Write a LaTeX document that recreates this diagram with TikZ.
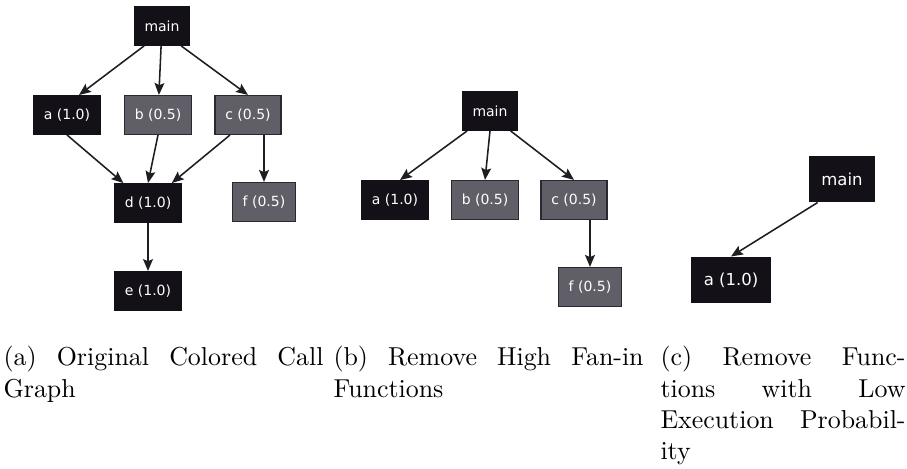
\documentclass[tikz,border=0pt]{standalone}
\usepackage{fontspec}
\usetikzlibrary{arrows.meta}
\newfontfamily\boxfont{DejaVu Sans}
\definecolor{hotbox}{HTML}{131117}
\definecolor{coldbox}{HTML}{605E67}
\definecolor{coldedge}{HTML}{2A2930}
\definecolor{callline}{HTML}{1E1E22}
\tikzset{
fn/.style={
draw=hotbox,fill=hotbox,text=white,
font=\boxfont\fontsize{5.4}{6}\selectfont,
minimum height=15pt,inner xsep=4pt,inner ysep=0pt
},
half/.style={fn,fill=coldbox,draw=coldedge,line width=.5pt},
big/.style={scale=1.18},
call/.style={
draw=callline,line width=.6pt,
-{Stealth[length=4.6pt,width=3.8pt,inset=.8pt]}
},
subcap/.style={
anchor=north west,inner sep=0pt,align=justify,
font=\fontsize{10}{12}\selectfont
},
}

\begin{document}
\begin{tikzpicture}[x=0.386pt,y=-0.386pt]
\useasboundingbox (0,0) rectangle (907,469);
% (a) original call graph
\node[fn] (a-main) at (162,26) {main};
\node[fn] (a-a) at (67,115) {a (1.0)};
\node[half] (a-b) at (158,115) {b (0.5)};
\node[half] (a-c) at (248,115) {c (0.5)};
\node[fn] (a-d) at (148,203) {d (1.0)};
\node[half] (a-f) at (264,202) {f (0.5)};
\node[fn] (a-e) at (148,291) {e (1.0)};
\foreach \u/\v in {main.228/a.59,main/b,main.314/c.north,a.south/d.141,b.south/d.north,c.228/d.40,d/e}
\draw[call] (a-\u) -- (a-\v);
\draw[call] (a-c.south -| a-f) -- (a-f);
% (b) without d and e
\node[fn] (b-main) at (490,111) {main};
\node[fn] (b-a) at (395,200) {a (1.0)};
\node[half] (b-b) at (485,200) {b (0.5)};
\node[half] (b-c) at (574,200) {c (0.5)};
\node[half] (b-f) at (590,287) {f (0.5)};
\foreach \u/\v in {main.221/a.76,main.south/b.north,main.316/c.north}
\draw[call] (b-\u) -- (b-\v);
\draw[call] (b-c.south -| b-f) -- (b-f);
% (c) only the sure calls
\node[fn,big] (c-main) at (842,179) {main};
\node[fn,big] (c-a) at (731,280) {a (1.0)};
\draw[call] (c-main.224) -- (c-a.north);
% captions
\node[subcap,text width=123.5pt] (cap-a) at (3,346)
{(a) Original Colored Call Graph};
\node[subcap,text width=119.7pt] (cap-b) at (333,346)
{(b) Remove High Fan-in Functions};
\node[subcap,text width=94.6pt] (cap-c) at (660,346)
{(c) Remove Func-\linebreak tions with Low\linebreak Execution Probabil-\linebreak ity};
\end{tikzpicture}
\end{document}
